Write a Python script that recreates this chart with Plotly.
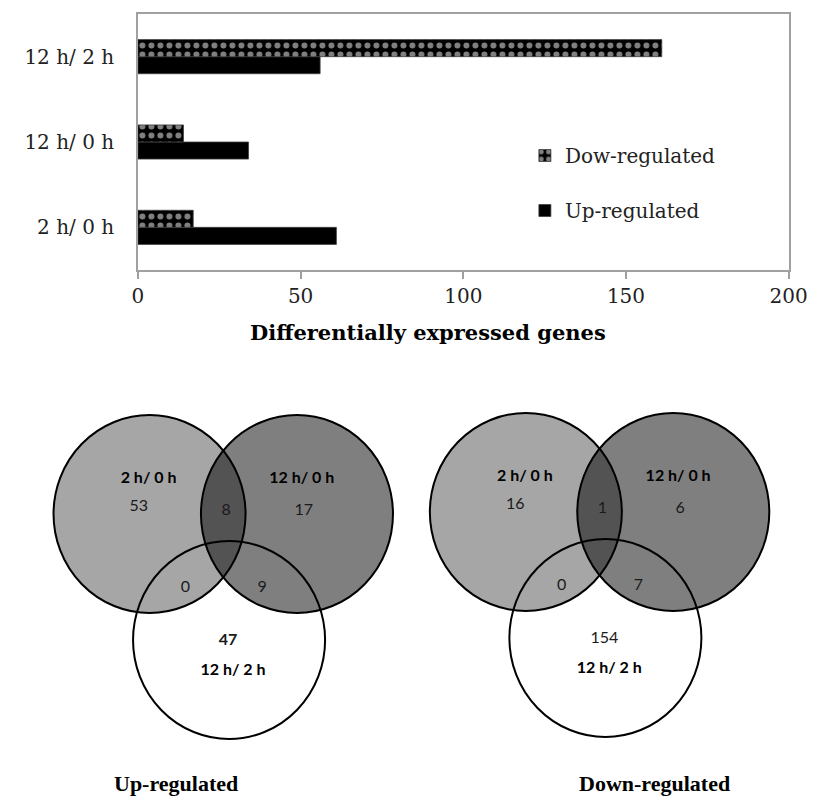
import plotly.graph_objects as go

# ---- bar chart data ----
categories = ['2 h/ 0 h', '12 h/ 0 h', '12 h/ 2 h']
up_regulated = [61, 34, 56]
down_regulated = [17, 14, 161]
x_ticks = [0, 50, 100, 150, 200]

# ---- Venn region counts: [A only, A&B, B only, A&C, B&C, C only] ----
set_names = ['2 h/ 0 h', '12 h/ 0 h', '12 h/ 2 h']
venn_up = [53, 8, 17, 0, 9, 47]
venn_down = [16, 1, 6, 0, 7, 154]

W, H = 830, 798
SERIF = 'DejaVu Serif'
SANS = 'Lato'

fig = go.Figure()

fig.add_trace(go.Bar(
    name='Up-regulated', y=categories, x=up_regulated, orientation='h',
    marker=dict(color='black', line=dict(color='#404040', width=0.8)),
    legendgroup='up', legendrank=2, xaxis='x', yaxis='y'))
fig.add_trace(go.Bar(
    name='Dow-regulated', y=categories, x=down_regulated, orientation='h',
    marker=dict(color='black', line=dict(color='#404040', width=0.8),
                pattern=dict(shape='.', fgcolor='white', bgcolor='black',
                             size=9, solidity=0.35)),
    legendgroup='down', legendrank=1, xaxis='x', yaxis='y'))

# ---- Venn diagrams drawn in pixel-like coordinates on a hidden axis pair ----
vd = 0.575
y_top = H - vd * H
circle_r = 99
# circle centres relative to a panel origin
centres = {'A': (148, 514), 'B': (300, 514), 'C': (230, 640)}
count_pos = [(137, 507), (227, 511), (307, 511), (185, 588), (264, 588), (229, 641)]
name_pos = [(147, 479), (305, 479), (234, 671)]
panels = [((0, 0), venn_up, 'Up-regulated', (175, 783)),
          ((388, -2), venn_down, 'Down-regulated', (669, 783))]

shapes = []
annotations = []
fills = {'A': 'rgba(0,0,0,0.35)', 'B': 'rgba(0,0,0,0.50)'}


def circle(key, dx, dy, **style):
    cx, cy = centres[key]
    return dict(type='circle', xref='x2', yref='y2', layer='below',
                x0=cx + dx - circle_r, x1=cx + dx + circle_r,
                y0=cy + dy - circle_r, y1=cy + dy + circle_r, **style)


for (dx, dy), counts, caption, cap_pos in panels:
    shapes.append(circle('C', dx, dy, fillcolor='white', line=dict(width=0)))
    for key in ('A', 'B'):
        shapes.append(circle(key, dx, dy, fillcolor=fills[key], line=dict(width=0)))
    for key in ('A', 'B', 'C'):
        shapes.append(circle(key, dx, dy, fillcolor='rgba(0,0,0,0)',
                             line=dict(color='black', width=2)))

    texts = [str(c) for c in counts]
    if counts[5] < 100:
        texts[5] = '<b>%s</b>' % texts[5]
    fig.add_trace(go.Scatter(
        x=[p[0] + dx for p in count_pos], y=[p[1] + dy for p in count_pos],
        text=texts, mode='text', textposition='middle center',
        textfont=dict(family=SANS, size=16, color='#1a1a1a'),
        showlegend=False, hoverinfo='skip', xaxis='x2', yaxis='y2'))
    fig.add_trace(go.Scatter(
        x=[p[0] + dx for p in name_pos], y=[p[1] + dy for p in name_pos],
        text=['<b>%s</b>' % n for n in set_names], mode='text',
        textposition='middle center',
        textfont=dict(family=SANS, size=16, color='black'),
        showlegend=False, hoverinfo='skip', xaxis='x2', yaxis='y2'))
    annotations.append(dict(xref='x2', yref='y2', x=cap_pos[0], y=cap_pos[1],
                            text='<b>%s</b>' % caption, showarrow=False,
                            font=dict(family='Liberation Serif', size=22, color='black')))

annotations.append(dict(xref='paper', yref='paper', x=435 / W, y=1 - 332 / H,
                        text='<b>Differentially expressed genes</b>', showarrow=False,
                        xanchor='center', yanchor='middle',
                        font=dict(family=SERIF, size=21, color='black')))

fig.update_layout(
    width=W, height=H, margin=dict(l=0, r=0, t=0, b=0),
    paper_bgcolor='white', plot_bgcolor='rgba(0,0,0,0)',
    barmode='group', bargap=0.6, bargroupgap=0,
    showlegend=True,
    legend=dict(x=535 / W, y=1 - 183 / H, xanchor='left', yanchor='middle',
                traceorder='grouped', tracegroupgap=26,
                font=dict(family=SERIF, size=20, color='#222'),
                bgcolor='rgba(0,0,0,0)'),
    xaxis=dict(domain=[136 / W, 807 / W], anchor='y', range=[0, 200],
               tickvals=x_ticks, ticks='outside', ticklen=7, tickcolor='#a0a0a0',
               tickwidth=1.5, showline=True, linecolor='#a0a0a0', linewidth=1.5,
               mirror=True, showgrid=False, zeroline=False,
               tickfont=dict(family=SERIF, size=20, color='#222')),
    yaxis=dict(domain=[1 - 270 / H, 1 - 14 / H], anchor='x', type='category',
               categoryorder='array', categoryarray=categories,
               ticks='', showline=True, linecolor='#a0a0a0', linewidth=1.5,
               mirror=True, showgrid=False, zeroline=False, ticklabelstandoff=18,
               tickfont=dict(family=SERIF, size=20, color='#222')),
    xaxis2=dict(domain=[0, 1], anchor='y2', range=[0, W], visible=False,
                fixedrange=True),
    yaxis2=dict(domain=[0, vd], anchor='x2', range=[H, y_top], visible=False,
                fixedrange=True),
    shapes=shapes, annotations=annotations,
)

fig.write_html('out.html')
